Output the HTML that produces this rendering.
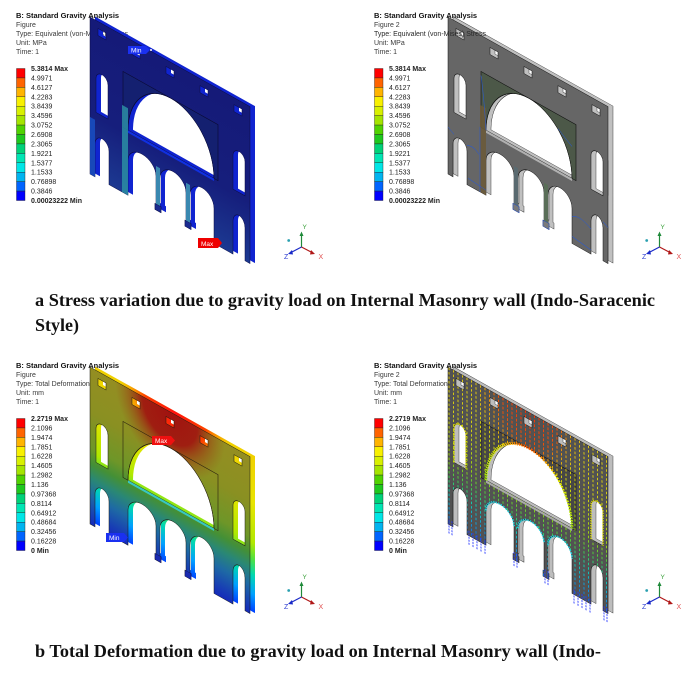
<!DOCTYPE html>
<html><head><meta charset="utf-8"><style>html,body{margin:0;padding:0;background:#fff;}svg{display:block}</style></head><body>
<svg width="700" height="675" viewBox="0 0 700 675" xmlns="http://www.w3.org/2000/svg" font-family="'Liberation Sans', Arial, sans-serif">
<defs>
<path id="W" fill-rule="evenodd" d="M0,0 L160,0 L160,157 L155,157 L155,124 A6,9 0 0 0 143,124 L143,157 L124,157 L124,122 A12,14 0 0 0 100,122 L100,150 L101,150 L101,156 L95,156 L95,150 L96,150 L96,122 A13,14 0 0 0 70,122 L70,150 L71,150 L71,156 L65,156 L65,150 L66,150 L66,122 A14,14 0 0 0 38,122 L38,157 L19,157 L19,124 A7,9 0 0 0 5,124 L5,157 L0,157 Z M38,92 A43,56 0 0 1 124,92 Z M6,92 L6,58 A6,7 0 0 1 18,58 L18,92 Z M143,92 L143,58 A6,7 0 0 1 155,58 L155,92 Z M8,7 h8 v7 h-8 Z M42,7 h8 v7 h-8 Z M76,7 h8 v7 h-8 Z M110,7 h8 v7 h-8 Z M144,7 h8 v7 h-8 Z"/>
<path id="R" fill-rule="evenodd" d="M33,36 H128 V92 H33 Z M38,92 A43,56 0 0 1 124,92 Z"/>
<clipPath id="CW" clip-rule="evenodd"><path clip-rule="evenodd" d="M0,0 L160,0 L160,157 L155,157 L155,124 A6,9 0 0 0 143,124 L143,157 L124,157 L124,122 A12,14 0 0 0 100,122 L100,150 L101,150 L101,156 L95,156 L95,150 L96,150 L96,122 A13,14 0 0 0 70,122 L70,150 L71,150 L71,156 L65,156 L65,150 L66,150 L66,122 A14,14 0 0 0 38,122 L38,157 L19,157 L19,124 A7,9 0 0 0 5,124 L5,157 L0,157 Z M38,92 A43,56 0 0 1 124,92 Z M6,92 L6,58 A6,7 0 0 1 18,58 L18,92 Z M143,92 L143,58 A6,7 0 0 1 155,58 L155,92 Z M8,7 h8 v7 h-8 Z M42,7 h8 v7 h-8 Z M76,7 h8 v7 h-8 Z M110,7 h8 v7 h-8 Z M144,7 h8 v7 h-8 Z"/></clipPath>
<path id="AR" d="M1,0V160M5.5,0V160M10,0V160M14.5,0V160M19,0V160M23.5,0V160M28,0V160M32.5,0V160M37,0V160M41.5,0V160M46,0V160M50.5,0V160M55,0V160M59.5,0V160M64,0V160M68.5,0V160M73,0V160M77.5,0V160M82,0V160M86.5,0V160M91,0V160M95.5,0V160M100,0V160M104.5,0V160M109,0V160M113.5,0V160M118,0V160M122.5,0V160M127,0V160M131.5,0V160M136,0V160M140.5,0V160M145,0V160M149.5,0V160M154,0V160M158.5,0V160"/>

<linearGradient id="g1f" gradientUnits="userSpaceOnUse" x1="0" y1="0" x2="0" y2="160">
<stop offset="0" stop-color="#151a78"/><stop offset="0.6" stop-color="#161e7c"/><stop offset="1" stop-color="#1c3a92"/></linearGradient>

<linearGradient id="g3f" gradientUnits="userSpaceOnUse" x1="0" y1="0" x2="0" y2="160">
<stop offset="0" stop-color="#948e22"/><stop offset="0.28" stop-color="#8a9022"/><stop offset="0.5" stop-color="#6e9628"/><stop offset="0.6" stop-color="#449036"/><stop offset="0.69" stop-color="#2a8874"/><stop offset="0.8" stop-color="#1e6aa4"/><stop offset="0.92" stop-color="#183eb4"/><stop offset="1" stop-color="#1424bc"/></linearGradient>
<radialGradient id="r3f" gradientUnits="userSpaceOnUse" cx="80" cy="0" r="55" gradientTransform="translate(80,0) scale(1,1.1) translate(-80,0)">
<stop offset="0" stop-color="#a01210" stop-opacity="1"/><stop offset="0.5" stop-color="#a01810" stop-opacity="0.95"/><stop offset="0.75" stop-color="#9a4414" stop-opacity="0.55"/><stop offset="1" stop-color="#945818" stop-opacity="0"/></radialGradient>
<linearGradient id="g3b" gradientUnits="userSpaceOnUse" x1="0" y1="0" x2="0" y2="160">
<stop offset="0" stop-color="#f0d000"/><stop offset="0.3" stop-color="#e8e400"/><stop offset="0.55" stop-color="#b0e800"/><stop offset="0.65" stop-color="#50e040"/><stop offset="0.75" stop-color="#00d8b0"/><stop offset="0.87" stop-color="#00a0ff"/><stop offset="1" stop-color="#0030ff"/></linearGradient>
<radialGradient id="r3b" gradientUnits="userSpaceOnUse" cx="80" cy="0" r="55" gradientTransform="translate(80,0) scale(1,1.1) translate(-80,0)">
<stop offset="0" stop-color="#ff1010" stop-opacity="1"/><stop offset="0.55" stop-color="#ff3000" stop-opacity="0.9"/><stop offset="0.78" stop-color="#ff7000" stop-opacity="0.5"/><stop offset="1" stop-color="#ff9000" stop-opacity="0"/></radialGradient>
<linearGradient id="g4a" gradientUnits="userSpaceOnUse" x1="0" y1="0" x2="0" y2="165">
<stop offset="0" stop-color="#ffe000"/><stop offset="0.3" stop-color="#f0f000"/><stop offset="0.55" stop-color="#a8f000"/><stop offset="0.65" stop-color="#40e840"/><stop offset="0.75" stop-color="#00e8c8"/><stop offset="0.87" stop-color="#00a8ff"/><stop offset="1" stop-color="#0030ff"/></linearGradient>
<radialGradient id="r4a" gradientUnits="userSpaceOnUse" cx="80" cy="0" r="55" gradientTransform="translate(80,0) scale(1,1.1) translate(-80,0)">
<stop offset="0" stop-color="#ff0000" stop-opacity="1"/><stop offset="0.55" stop-color="#ff2000" stop-opacity="0.9"/><stop offset="0.78" stop-color="#ff7000" stop-opacity="0.5"/><stop offset="1" stop-color="#ff9000" stop-opacity="0"/></radialGradient>

<g id="cb" stroke="#222" stroke-width="0.4">
<rect x="16.5" y="68.5" width="8.5" height="9.43" fill="#ff0000"/>
<rect x="16.5" y="77.93" width="8.5" height="9.43" fill="#ff6400"/>
<rect x="16.5" y="87.36" width="8.5" height="9.43" fill="#ffb400"/>
<rect x="16.5" y="96.79" width="8.5" height="9.43" fill="#f8f000"/>
<rect x="16.5" y="106.22" width="8.5" height="9.43" fill="#d8f000"/>
<rect x="16.5" y="115.65" width="8.5" height="9.43" fill="#a4e400"/>
<rect x="16.5" y="125.08" width="8.5" height="9.43" fill="#50d200"/>
<rect x="16.5" y="134.51" width="8.5" height="9.43" fill="#1ec81e"/>
<rect x="16.5" y="143.94" width="8.5" height="9.43" fill="#00d278"/>
<rect x="16.5" y="153.37" width="8.5" height="9.43" fill="#00e6b4"/>
<rect x="16.5" y="162.8" width="8.5" height="9.43" fill="#00e6e6"/>
<rect x="16.5" y="172.23" width="8.5" height="9.43" fill="#00b4f0"/>
<rect x="16.5" y="181.66" width="8.5" height="9.43" fill="#0064ff"/>
<rect x="16.5" y="191.09" width="8.5" height="9.43" fill="#0000ff"/>
</g>

<g id="tri">
<line x1="301.5" y1="247" x2="301.5" y2="235" stroke="#1f8a3a" stroke-width="1.2"/>
<polygon points="299.5,236 303.5,236 301.5,231.5" fill="#1f8a3a"/>
<line x1="301.5" y1="247" x2="312" y2="252.5" stroke="#b01818" stroke-width="1.2"/>
<polygon points="311,250 310,254.5 315,254" fill="#b01818"/>
<line x1="301.5" y1="247" x2="291" y2="252.5" stroke="#1a2ac8" stroke-width="1.2"/>
<polygon points="292,250 293,254.5 288,254" fill="#1a2ac8"/>
<text x="302.5" y="229" font-size="6.5" fill="#3aa03a">Y</text>
<text x="318.5" y="259" font-size="7" fill="#e05050">X</text>
<text x="284" y="259" font-size="7" fill="#2a3ad0">Z</text>
<circle cx="288.7" cy="240.5" r="1.4" fill="#2aa0b0"/>
</g>

<g id="L1" font-size="7" fill="#222">
<text x="31" y="71" font-weight="bold">5.3814 Max</text>
<text x="31" y="80.4">4.9971</text>
<text x="31" y="89.9">4.6127</text>
<text x="31" y="99.3">4.2283</text>
<text x="31" y="108.7">3.8439</text>
<text x="31" y="118.2">3.4596</text>
<text x="31" y="127.6">3.0752</text>
<text x="31" y="137">2.6908</text>
<text x="31" y="146.4">2.3065</text>
<text x="31" y="155.9">1.9221</text>
<text x="31" y="165.3">1.5377</text>
<text x="31" y="174.7">1.1533</text>
<text x="31" y="184.2">0.76898</text>
<text x="31" y="193.6">0.3846</text>
<text x="31" y="203" font-weight="bold">0.00023222 Min</text>
</g>
<g id="L2" font-size="7" fill="#222">
<text x="31" y="71" font-weight="bold">2.2719 Max</text>
<text x="31" y="80.4">2.1096</text>
<text x="31" y="89.9">1.9474</text>
<text x="31" y="99.3">1.7851</text>
<text x="31" y="108.7">1.6228</text>
<text x="31" y="118.2">1.4605</text>
<text x="31" y="127.6">1.2982</text>
<text x="31" y="137">1.136</text>
<text x="31" y="146.4">0.97368</text>
<text x="31" y="155.9">0.8114</text>
<text x="31" y="165.3">0.64912</text>
<text x="31" y="174.7">0.48684</text>
<text x="31" y="184.2">0.32456</text>
<text x="31" y="193.6">0.16228</text>
<text x="31" y="203" font-weight="bold">0 Min</text>
</g>
</defs>

<rect width="700" height="675" fill="#fff"/>

<!-- PANEL 1 -->
<g>
<g font-size="7" fill="#3a3a3a">
<text x="16" y="27">Figure</text>
<text x="16" y="36">Type: Equivalent (von-Mises) Stress</text>
<text x="16" y="45">Unit: MPa</text>
<text x="16" y="54">Time: 1</text>
</g>
<g transform="matrix(1,0.56,0,1,95,16.5)"><use href="#W" fill="#1024d0"/></g>
<g transform="matrix(1,0.56,0,1,90,17)">
<use href="#W" fill="url(#g1f)" stroke="#0a0a40" stroke-width="0.5"/>
<use href="#R" fill="#142070" stroke="#0a0a30" stroke-width="0.6"/>
<rect x="38" y="92" width="86" height="2.5" fill="#1030e0"/>
<rect x="32" y="70" width="6" height="87" fill="#2c8ea4" opacity="0.85"/>
<rect x="0" y="100" width="5" height="57" fill="#1848b8"/>
<rect x="66" y="112" width="4" height="38" fill="#3a88b0"/>
<rect x="96" y="112" width="4" height="38" fill="#3a88b0"/>
<rect x="65" y="150" width="6" height="6" fill="#1a2a90" stroke="#0a0a40" stroke-width="0.4"/>
<rect x="95" y="150" width="6" height="6" fill="#1a2a90" stroke="#0a0a40" stroke-width="0.4"/>
</g>
<text x="16" y="18" font-size="7.5" font-weight="bold" fill="#111">B: Standard Gravity Analysis</text>
<use href="#cb"/>
<use href="#L1"/>
<use href="#tri"/>
<polygon points="128,46 146,46 150,50 146,54 128,54" fill="#1a30f0"/>
<text x="131" y="52.5" font-size="6.5" fill="#fff">Min</text>
<circle cx="151" cy="50" r="1" fill="#fff"/>
<polygon points="198,238 218,238 222,243 218,248 198,248" fill="#ee0000"/>
<text x="201" y="245.8" font-size="6.5" fill="#fff">Max</text>
</g>

<!-- PANEL 2 -->
<g transform="translate(358,0)">
<g font-size="7" fill="#3a3a3a">
<text x="16" y="27">Figure 2</text>
<text x="16" y="45">Unit: MPa</text>
<text x="16" y="54">Time: 1</text>
</g>
<g transform="matrix(1,0.56,0,1,95,16.5)"><use href="#W" fill="#c0c0c0" stroke="#222" stroke-width="0.4"/></g>
<g transform="matrix(1,0.56,0,1,90,17)">
<use href="#W" fill="#666666" stroke="#111" stroke-width="0.5"/>
<use href="#R" fill="#4c5848" stroke="#111" stroke-width="0.6"/>
<rect x="38" y="92" width="86" height="2.5" fill="#b0b0b0"/>
<rect x="32" y="70" width="6" height="87" fill="#6a5a3a" opacity="0.9"/>
<rect x="66" y="112" width="4" height="38" fill="#5a6a70"/>
<rect x="96" y="112" width="4" height="38" fill="#5a6e58"/>
<rect x="65" y="150" width="6" height="6" fill="#7a7a7a" stroke="#2050d0" stroke-width="0.5"/>
<rect x="95" y="150" width="6" height="6" fill="#7a7a7a" stroke="#2050d0" stroke-width="0.5"/>
<g fill="none" stroke="#2a5ad0" stroke-width="0.6">
<path d="M0,110 L6,114"/><path d="M19,118 Q25,114 31,120"/><path d="M33,40 Q36,60 38,92"/>
<path d="M124,130 Q132,124 143,132"/><path d="M155,118 L160,121"/><path d="M20,150 L38,152"/>
<path d="M124,150 L143,153"/><path d="M110,50 Q118,56 124,60"/><path d="M32,92 L32,157"/>
</g>
</g>
<text x="16" y="36" font-size="7" fill="#2a2a2a">Type: Equivalent (von-Mises) Stress</text>
<text x="16" y="18" font-size="7.5" font-weight="bold" fill="#111">B: Standard Gravity Analysis</text>
<use href="#cb"/>
<use href="#L1"/>
<use href="#tri"/>
</g>

<!-- PANEL 3 -->
<g transform="translate(0,350)">
<g font-size="7" fill="#3a3a3a">
<text x="16" y="27">Figure</text>
<text x="16" y="36">Type: Total Deformation</text>
<text x="16" y="45">Unit: mm</text>
<text x="16" y="54">Time: 1</text>
</g>
<g transform="matrix(1,0.56,0,1,95,16.5)"><use href="#W" fill="url(#g3b)"/><use href="#W" fill="url(#r3b)"/></g>
<g transform="matrix(1,0.56,0,1,90,17)">
<use href="#W" fill="url(#g3f)"/>
<use href="#W" fill="url(#r3f)" stroke="#1a1a10" stroke-width="0.5"/>
<use href="#R" fill="none" stroke="#2a2010" stroke-width="0.6"/>
<rect x="38" y="92" width="86" height="2.5" fill="#38c8c0"/>
<rect x="65" y="150" width="6" height="6" fill="#1a2ab0" stroke="#101040" stroke-width="0.4"/>
<rect x="95" y="150" width="6" height="6" fill="#1a2ab0" stroke="#101040" stroke-width="0.4"/>
</g>
<text x="16" y="18" font-size="7.5" font-weight="bold" fill="#111">B: Standard Gravity Analysis</text>
<use href="#cb"/>
<use href="#L2"/>
<use href="#tri"/>
<polygon points="152,86 171,86 175,90.5 171,95 152,95" fill="#ee1010"/>
<text x="155" y="93" font-size="6.5" fill="#fff">Max</text>
<polygon points="106,183 124,183 128,187.5 124,192 106,192" fill="#1a30f0"/>
<text x="109" y="190" font-size="6.5" fill="#fff">Min</text>
</g>

<!-- PANEL 4 -->
<g transform="translate(358,350)">
<g font-size="7" fill="#3a3a3a">
<text x="16" y="27">Figure 2</text>
<text x="16" y="36">Type: Total Deformation</text>
<text x="16" y="45">Unit: mm</text>
<text x="16" y="54">Time: 1</text>
</g>
<g transform="matrix(1,0.56,0,1,95,16.5)"><use href="#W" fill="#bdbdbd" stroke="#222" stroke-width="0.4"/></g>
<g transform="matrix(1,0.56,0,1,90,17)">
<use href="#W" fill="#525252" stroke="#111" stroke-width="0.5"/>
<use href="#R" fill="#464646" stroke="#111" stroke-width="0.6"/>
<rect x="38" y="92" width="86" height="2.5" fill="#a8a8a8"/>
<g clip-path="url(#CW)">
<use href="#AR" fill="none" stroke="url(#g4a)" stroke-width="0.8" stroke-dasharray="2.5 2"/>
<use href="#AR" fill="none" stroke="url(#r4a)" stroke-width="0.8" stroke-dasharray="2.5 2"/>
</g>
<path d="M38,92 A43,56 0 0 1 124,92" fill="none" stroke="url(#g4a)" stroke-width="2.6" stroke-dasharray="1.5 1"/>
<path d="M38,92 A43,56 0 0 1 124,92" fill="none" stroke="url(#r4a)" stroke-width="2.6" stroke-dasharray="1.5 1"/>
<path d="M38,122 A14,14 0 0 1 66,122 M70,122 A13,14 0 0 1 96,122 M100,122 A12,14 0 0 1 124,122" fill="none" stroke="#20d0e0" stroke-width="1.8" stroke-dasharray="1.5 1"/>
<path d="M6,92 L6,58 A6,7 0 0 1 18,58 L18,92 M143,92 L143,58 A6,7 0 0 1 155,58 L155,92" fill="none" stroke="#e0e000" stroke-width="1.4" stroke-dasharray="1.5 1"/>
<path d="M1,152V166M4,152V166M21,152V167M25,152V167M29,152V167M33,152V167M37,152V167M66,148V162M69,148V162M97,148V162M100,148V162M126,152V167M130,152V167M134,152V167M138,152V167M142,152V167M156,152V166M159,152V166" fill="none" stroke="#2a3aff" stroke-width="0.9" stroke-dasharray="2 1"/>
</g>
<text x="16" y="18" font-size="7.5" font-weight="bold" fill="#111">B: Standard Gravity Analysis</text>
<use href="#cb"/>
<use href="#L2"/>
<use href="#tri"/>
</g>

<!-- CAPTIONS -->
<g font-family="'Liberation Serif', 'Times New Roman', serif" font-weight="bold" font-size="18" fill="#111">
<text x="35" y="306" textLength="620" lengthAdjust="spacingAndGlyphs">a Stress variation due to gravity load on Internal Masonry wall (Indo-Saracenic</text>
<text x="35" y="331">Style)</text>
<text x="35" y="657" textLength="566" lengthAdjust="spacingAndGlyphs">b Total Deformation due to gravity load on Internal Masonry wall (Indo-</text>
</g>
</svg>
</body></html>
